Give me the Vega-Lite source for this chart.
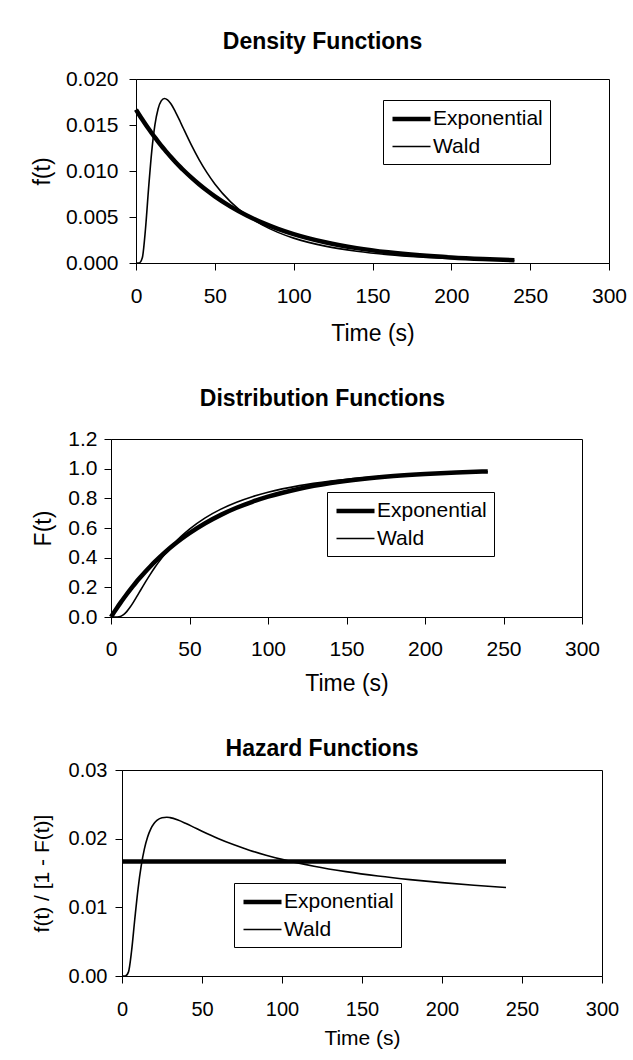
{
  "$schema": "https://vega.github.io/schema/vega-lite/v6.json",
  "background": "white",
  "padding": {"left": 30, "top": 30, "right": 5, "bottom": 5},
  "data": {"values": [
    {"t":0,"series":"Exponential","f":0.016667,"F":0,"h":0.016667},
    {"t":2,"series":"Exponential","f":0.016120,"F":0.032784,"h":0.016667},
    {"t":4,"series":"Exponential","f":0.015592,"F":0.064493,"h":0.016667},
    {"t":6,"series":"Exponential","f":0.015081,"F":0.095163,"h":0.016667},
    {"t":8,"series":"Exponential","f":0.014586,"F":0.124827,"h":0.016667},
    {"t":10,"series":"Exponential","f":0.014108,"F":0.153518,"h":0.016667},
    {"t":12,"series":"Exponential","f":0.013646,"F":0.181269,"h":0.016667},
    {"t":14,"series":"Exponential","f":0.013198,"F":0.208111,"h":0.016667},
    {"t":16,"series":"Exponential","f":0.012765,"F":0.234072,"h":0.016667},
    {"t":18,"series":"Exponential","f":0.012347,"F":0.259182,"h":0.016667},
    {"t":20,"series":"Exponential","f":0.011942,"F":0.283469,"h":0.016667},
    {"t":22,"series":"Exponential","f":0.011551,"F":0.306959,"h":0.016667},
    {"t":25,"series":"Exponential","f":0.010987,"F":0.340759,"h":0.016667},
    {"t":28,"series":"Exponential","f":0.010453,"F":0.372850,"h":0.016667},
    {"t":30,"series":"Exponential","f":0.010109,"F":0.393469,"h":0.016667},
    {"t":35,"series":"Exponential","f":0.009301,"F":0.441965,"h":0.016667},
    {"t":40,"series":"Exponential","f":0.008557,"F":0.486583,"h":0.016667},
    {"t":45,"series":"Exponential","f":0.007873,"F":0.527633,"h":0.016667},
    {"t":50,"series":"Exponential","f":0.007243,"F":0.565402,"h":0.016667},
    {"t":60,"series":"Exponential","f":0.006131,"F":0.632121,"h":0.016667},
    {"t":70,"series":"Exponential","f":0.005190,"F":0.688597,"h":0.016667},
    {"t":80,"series":"Exponential","f":0.004393,"F":0.736403,"h":0.016667},
    {"t":90,"series":"Exponential","f":0.003719,"F":0.776870,"h":0.016667},
    {"t":100,"series":"Exponential","f":0.003148,"F":0.811124,"h":0.016667},
    {"t":120,"series":"Exponential","f":0.002256,"F":0.864665,"h":0.016667},
    {"t":140,"series":"Exponential","f":0.001616,"F":0.903028,"h":0.016667},
    {"t":160,"series":"Exponential","f":0.001158,"F":0.930517,"h":0.016667},
    {"t":180,"series":"Exponential","f":0.000830,"F":0.950213,"h":0.016667},
    {"t":200,"series":"Exponential","f":0.000595,"F":0.964326,"h":0.016667},
    {"t":220,"series":"Exponential","f":0.000426,"F":0.974439,"h":0.016667},
    {"t":240,"series":"Exponential","f":0.000305,"F":0.981684,"h":0.016667},
    {"t":0,"series":"Wald","f":0,"F":0,"h":0},
    {"t":2,"series":"Wald","f":0.000001,"F":0,"h":0.000001},
    {"t":4,"series":"Wald","f":0.000562,"F":0.000285,"h":0.000562},
    {"t":6,"series":"Wald","f":0.003663,"F":0.004077,"h":0.003678},
    {"t":8,"series":"Wald","f":0.008166,"F":0.015873,"h":0.008298},
    {"t":10,"series":"Wald","f":0.012167,"F":0.036383,"h":0.012626},
    {"t":12,"series":"Wald","f":0.015009,"F":0.063751,"h":0.016031},
    {"t":14,"series":"Wald","f":0.016742,"F":0.095683,"h":0.018513},
    {"t":16,"series":"Wald","f":0.017615,"F":0.130144,"h":0.020251},
    {"t":18,"series":"Wald","f":0.017883,"F":0.165743,"h":0.021436},
    {"t":20,"series":"Wald","f":0.017738,"F":0.201403,"h":0.022211},
    {"t":22,"series":"Wald","f":0.017330,"F":0.236512,"h":0.022698},
    {"t":25,"series":"Wald","f":0.016434,"F":0.287213,"h":0.023056},
    {"t":28,"series":"Wald","f":0.015378,"F":0.334960,"h":0.023123},
    {"t":30,"series":"Wald","f":0.014646,"F":0.364979,"h":0.023064},
    {"t":35,"series":"Wald","f":0.012861,"F":0.433694,"h":0.022710},
    {"t":40,"series":"Wald","f":0.011238,"F":0.493872,"h":0.022204},
    {"t":45,"series":"Wald","f":0.009819,"F":0.546421,"h":0.021648},
    {"t":50,"series":"Wald","f":0.008596,"F":0.592389,"h":0.021089},
    {"t":60,"series":"Wald","f":0.006649,"F":0.668100,"h":0.020033},
    {"t":70,"series":"Wald","f":0.005214,"F":0.727067,"h":0.019104},
    {"t":80,"series":"Wald","f":0.004142,"F":0.773581,"h":0.018293},
    {"t":90,"series":"Wald","f":0.003330,"F":0.810792,"h":0.017600},
    {"t":100,"series":"Wald","f":0.002704,"F":0.840808,"h":0.016988},
    {"t":120,"series":"Wald","f":0.001831,"F":0.885479,"h":0.015987},
    {"t":140,"series":"Wald","f":0.001275,"F":0.916133,"h":0.015198},
    {"t":160,"series":"Wald","f":0.000907,"F":0.937697,"h":0.014559},
    {"t":180,"series":"Wald","f":0.000657,"F":0.953189,"h":0.014035},
    {"t":200,"series":"Wald","f":0.000483,"F":0.964495,"h":0.013598},
    {"t":220,"series":"Wald","f":0.000359,"F":0.972833,"h":0.013219},
    {"t":240,"series":"Wald","f":0.000270,"F":0.979073,"h":0.012893}
  ]},
  "columns": 1,
  "align": "none",
  "bounds": "full",
  "spacing": 41,
  "concat": [
    {
      "spacing": 0, "bounds": "flush",
      "hconcat": [
        {"width": 35, "height": 1, "data": {"values": []}, "mark": "point", "view": {"stroke": null, "fill": null}},
        {
          "width": 473, "height": 184,
          "title": {"text": "Density Functions", "offset": 14, "dx": -50, "frame": "group"},
          "mark": {"type": "line", "color": "black", "interpolate": "monotone"},
          "encoding": {
            "x": {"field": "t", "type": "quantitative", "scale": {"domain": [0, 300], "nice": false},
                  "axis": {"values": [0, 50, 100, 150, 200, 250, 300], "title": "Time (s)", "labelFontSize": 21, "titleFontSize": 23, "labelPadding": 15, "titlePadding": 16}},
            "y": {"field": "f", "type": "quantitative", "scale": {"domain": [0, 0.02], "nice": false},
                  "axis": {"values": [0, 0.005, 0.01, 0.015, 0.02], "format": ".3f", "title": "f(t)", "labelFontSize": 21, "titleFontSize": 23, "labelPadding": 11, "titlePadding": 11}},
            "strokeWidth": {"field": "series", "type": "nominal",
                  "scale": {"type": "point", "domain": ["Exponential", "Wald"], "range": [4.5, 1.6], "padding": 0},
                  "legend": {"orient": "none", "legendX": 282, "legendY": 21}}
          }
        }
      ]
    },
    {
      "spacing": 0, "bounds": "flush",
      "hconcat": [
        {"width": 10, "height": 1, "data": {"values": []}, "mark": "point", "view": {"stroke": null, "fill": null}},
        {
          "width": 471, "height": 178,
          "title": {"text": "Distribution Functions", "offset": 17, "dx": -24, "frame": "group"},
          "mark": {"type": "line", "color": "black", "interpolate": "monotone"},
          "encoding": {
            "x": {"field": "t", "type": "quantitative", "scale": {"domain": [0, 300], "nice": false},
                  "axis": {"values": [0, 50, 100, 150, 200, 250, 300], "title": "Time (s)", "labelFontSize": 21, "titleFontSize": 23, "labelPadding": 14, "titlePadding": 13}},
            "y": {"field": "F", "type": "quantitative", "scale": {"domain": [0, 1.2], "nice": false},
                  "axis": {"values": [0, 0.2, 0.4, 0.6, 0.8, 1.0, 1.2], "format": ".1f", "title": "F(t)", "labelFontSize": 21, "titleFontSize": 23, "labelPadding": 7, "titlePadding": 12}},
            "strokeWidth": {"field": "series", "type": "nominal",
                  "scale": {"type": "point", "domain": ["Exponential", "Wald"], "range": [4.5, 1.6], "padding": 0},
                  "legend": {"orient": "none", "legendX": 226, "legendY": 53}}
          }
        }
      ]
    },
    {
      "spacing": 0, "bounds": "flush",
      "hconcat": [
        {"width": 21, "height": 1, "data": {"values": []}, "mark": "point", "view": {"stroke": null, "fill": null}},
        {
          "width": 480, "height": 206,
          "title": {"text": "Hazard Functions", "offset": -1, "dx": -40, "frame": "group"},
          "mark": {"type": "line", "color": "black", "interpolate": "monotone"},
          "encoding": {
            "x": {"field": "t", "type": "quantitative", "scale": {"domain": [0, 300], "nice": false},
                  "axis": {"values": [0, 50, 100, 150, 200, 250, 300], "title": "Time (s)", "labelFontSize": 20, "titleFontSize": 21, "labelPadding": 16, "titlePadding": 8}},
            "y": {"field": "h", "type": "quantitative", "scale": {"domain": [0, 0.03], "nice": false},
                  "axis": {"values": [0, 0.01, 0.02, 0.03], "format": ".2f", "title": "f(t) / [1 - F(t)]", "labelFontSize": 20, "titleFontSize": 21, "labelPadding": 8, "titlePadding": 16}},
            "strokeWidth": {"field": "series", "type": "nominal",
                  "scale": {"type": "point", "domain": ["Exponential", "Wald"], "range": [4.5, 1.6], "padding": 0},
                  "legend": {"orient": "none", "legendX": 133, "legendY": 113}}
          }
        }
      ]
    }
  ],
  "resolve": {"scale": {"strokeWidth": "independent"}, "legend": {"strokeWidth": "independent"}},
  "config": {
    "font": "Liberation Sans",
    "view": {"stroke": "black", "strokeWidth": 1},
    "axis": {"grid": false, "domainColor": "black", "tickColor": "black", "labelColor": "black", "titleColor": "black",
             "titleFontWeight": "normal", "labelFont": "Liberation Sans", "titleFont": "Liberation Sans",
             "tickSize": 7, "labelFlush": false, "labelOverlap": false},
    "legend": {"title": null, "symbolType": "M-1,0H3", "symbolSize": 361, "labelOffset": 19, "labelFontSize": 21,
               "labelFont": "Liberation Sans", "labelColor": "black", "padding": 7, "rowPadding": 6,
               "strokeColor": "black", "fillColor": "white", "symbolStrokeColor": "black", "cornerRadius": 0},
    "title": {"font": "Liberation Sans", "fontSize": 23, "fontWeight": "bold", "color": "black", "baseline": "alphabetic", "anchor": "middle"}
  }
}
